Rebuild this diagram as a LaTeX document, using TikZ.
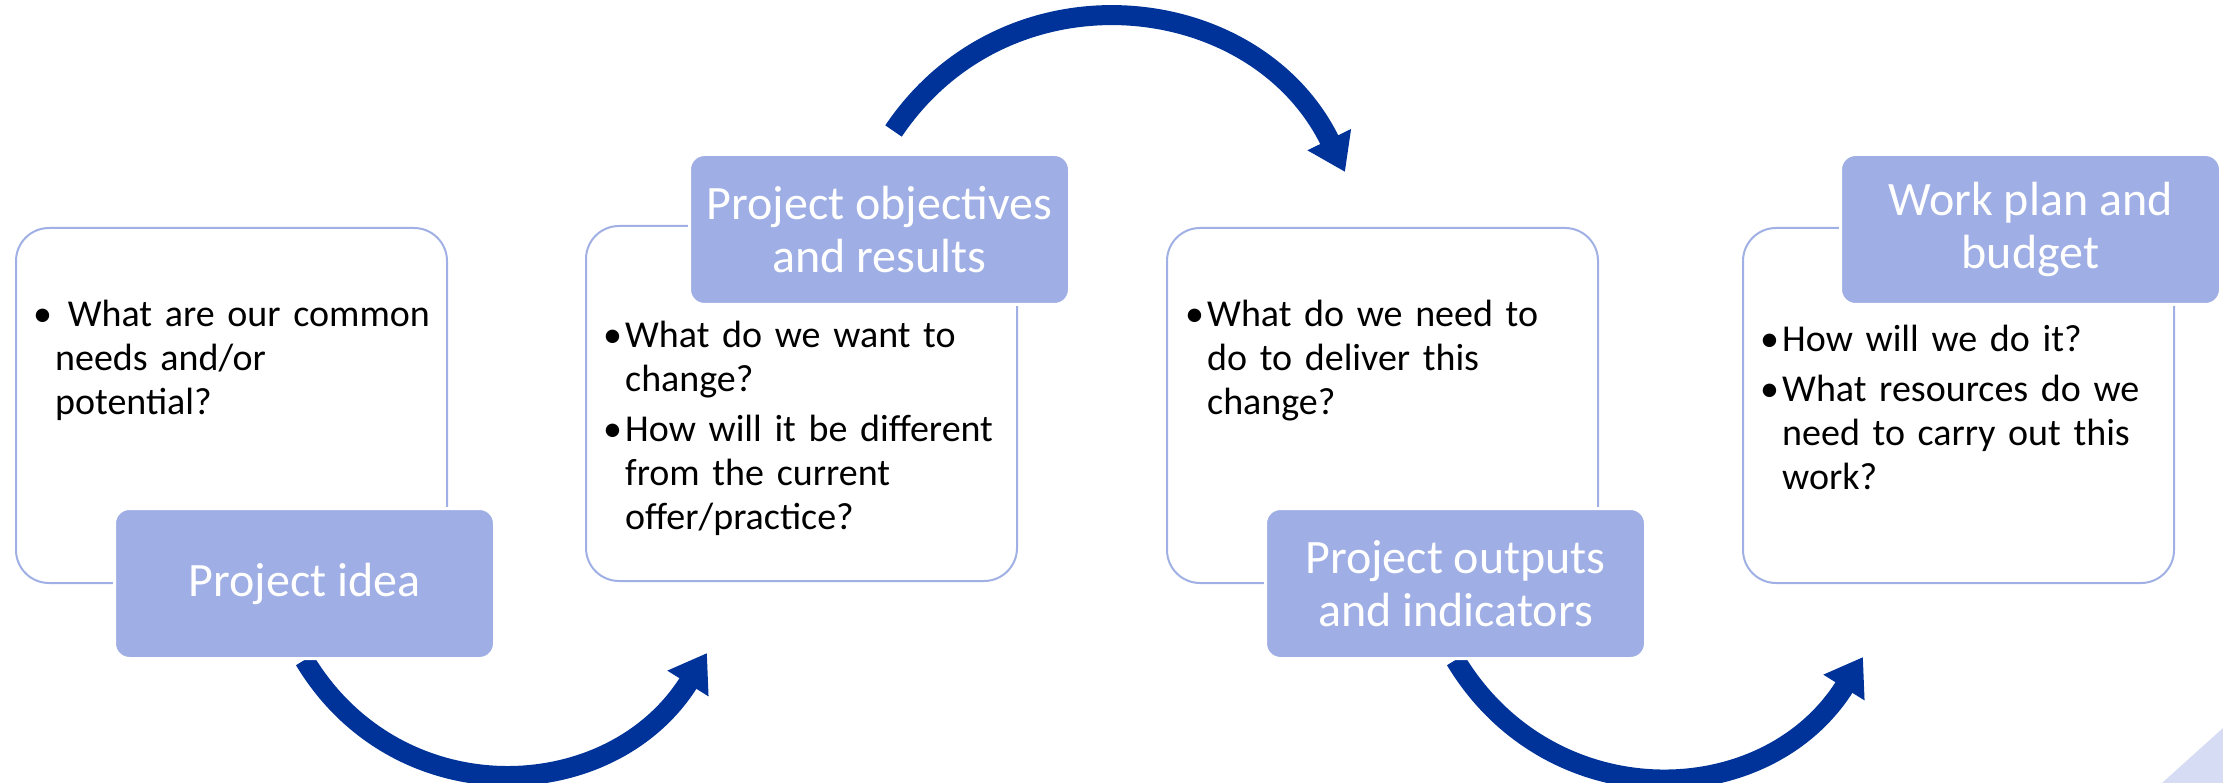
\documentclass[tikz,border=0pt]{standalone}
\usepackage{fontspec}
\setmainfont{Carlito}
\usetikzlibrary{arrows.meta,backgrounds}
\definecolor{boxline}{RGB}{160,176,228}
\definecolor{titlefill}{RGB}{159,174,228}
\definecolor{arrowblue}{RGB}{0,51,153}
\definecolor{cornerfill}{RGB}{214,220,243}
\newcommand{\bitem}[1]{\par\hangindent=22pt\hangafter=1\noindent\makebox[22pt][l]{\strut\textbullet}#1\par}
\tikzset{
  qbox/.style={draw=boxline, line width=2pt, rounded corners=33pt, minimum width=431pt,
    minimum height=355pt, anchor=north west, inner sep=0pt},
  tbox/.style={fill=titlefill, draw=white, line width=3pt, rounded corners=15pt,
    minimum width=380pt, minimum height=150pt, anchor=north west, text=white,
    align=center, font=\fontsize{48}{53}\selectfont},
  qtext/.style={anchor=north west, text width=410pt, align=left, inner sep=0pt,
    font=\fontsize{38}{44}\selectfont\setlength{\parskip}{6pt}},
  flow/.style={draw=arrowblue, line width=20pt, -{Triangle[length=36pt,width=46pt]},
    looseness=1.15}
}
\begin{document}
\begin{tikzpicture}[x=1pt,y=1pt]
      \useasboundingbox (0,0) rectangle (2223,-783);
      \fill[cornerfill] (2162,-783) -- (2223,-728) -- (2223,-783) -- cycle;
      \node[qbox] (b1) at (15,-227) {};
      \node[qtext] (q1) at (33,-276) {\bitem{\ What are our common\newline needs and/or\newline potential?}};
      \node[tbox] (t1) at (113,-507) {Project idea};
      \node[qbox] (b2) at (585,-225) {};
      \node[qtext] (q2) at (603,-297) {\bitem{What do we want to\newline change?}
        \bitem{How will it be different\newline from the current\newline offer/practice?}};
      \node[tbox] (t2) at (688,-153) {Project objectives\\and results};
      \node[qbox] (b3) at (1166,-227) {};
      \node[qtext] (q3) at (1185,-276) {\bitem{What do we need to\newline do to deliver this\newline change?}};
      \node[tbox] (t3) at (1264,-507) {Project outputs\\and indicators};
      \node[qbox] (b4) at (1742,-227) {};
      \node[qtext] (q4) at (1760,-301) {\bitem{How will we do it?}
        \bitem{What resources do we\newline need to carry out this\newline work?}};
      \node[tbox] (t4) at (1839,-153) {Work plan and\\budget};
      \coordinate (a1e) at (707,-653);
      \coordinate (a2s) at ([shift={(14,22)}]t2.north);
      \coordinate (a2e) at (1345,-172);
      \coordinate (a3e) at (1863,-657);
      \begin{pgfonlayer}{background}
        \draw[flow] (t1.south) to[out=-59,in=238] (a1e);
        \draw[flow] (a2s) to[out=56,in=116] (a2e);
        \draw[flow] (t3.south) to[out=-59,in=238] (a3e);
      \end{pgfonlayer}
    \end{tikzpicture}
\end{document}
